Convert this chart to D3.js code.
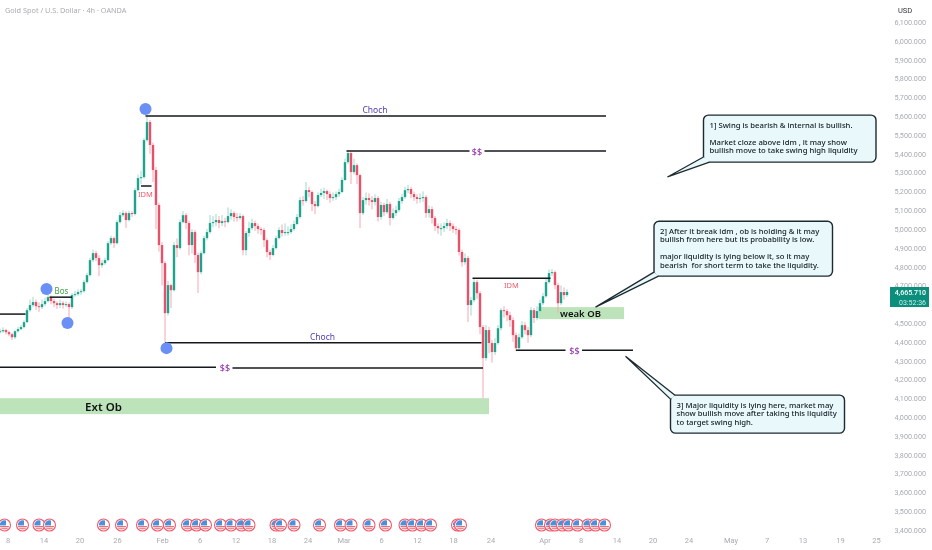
<!DOCTYPE html>
<html>
<head>
<meta charset="utf-8">
<title>Gold Spot / U.S. Dollar</title>
<script src="https://cdn.jsdelivr.net/npm/d3@7"></script>
<style>
  html, body { margin: 0; padding: 0; background: #fff; }
  svg { display: block; font-family: "Noto Sans", sans-serif; filter: blur(0.3px); }
</style>
</head>
<body>
<script>
var closes = [4457,4463,4452,4441,4425,4457,4468,4479,4505,4569,4596,4612,4590,4585,4601,4617,4638,4617,4606,4596,
  4606,4596,4601,4585,4649,4654,4665,4670,4718,4755,4835,4872,4846,4808,4819,4835,4925,4952,4925,5037,
  5074,5085,5048,5085,5080,5207,5271,5276,5473,5569,5447,5314,5128,4915,4819,4553,4702,4675,4915,4899,
  5037,5074,5032,4915,4984,4862,4771,4872,4952,4984,5032,5037,5048,5032,5042,5037,5069,5085,5064,5059,
  5069,4888,4979,5005,5032,5016,5000,4995,4941,4878,4862,4899,4952,4995,4979,4984,4984,5000,5027,5064,
  5154,5149,5207,5197,5133,5122,5181,5192,5202,5186,5165,5170,5186,5197,5261,5356,5404,5303,5340,5287,
  5085,5154,5165,5154,5144,5165,5064,5128,5090,5133,5059,5085,5101,5149,5170,5207,5213,5186,5170,5160,
  5165,5170,5085,5106,5059,5016,5005,5005,5016,5032,5016,5000,4995,4878,4824,4846,4596,4622,4718,4659,
  4479,4314,4463,4394,4346,4394,4473,4569,4564,4542,4516,4436,4367,4425,4489,4463,4436,4569,4527,4564,
  4606,4643,4718,4766,4771,4702,4606,4665,4649,4665.71];
var highs = [4470,4478,4470,4460,4448,4462,4480,4490,4515,4580,4625,4640,4625,4610,4625,4635,4655,4648,4630,4615,
  4625,4618,4615,4610,4660,4672,4680,4682,4730,4768,4848,4890,4885,4860,4835,4848,4935,4965,4960,5048,
  5092,5100,5095,5098,5095,5218,5290,5310,5485,5600,5580,5460,5330,5140,4930,4830,4725,4710,4930,4950,
  5050,5095,5085,5045,5000,4995,4875,4885,4965,5000,5075,5070,5080,5070,5075,5060,5115,5105,5095,5085,
  5085,5078,4990,5040,5055,5045,5030,5010,5005,4950,4890,4915,4965,5010,5025,5030,5015,5025,5045,5080,
  5170,5175,5250,5225,5205,5150,5195,5215,5220,5210,5200,5195,5200,5215,5275,5375,5420,5410,5375,5350,
  5295,5170,5195,5190,5175,5185,5175,5145,5140,5160,5145,5110,5125,5165,5185,5225,5235,5225,5200,5185,
  5190,5200,5180,5125,5120,5070,5030,5030,5035,5055,5045,5030,5015,5005,4890,4870,4858,4640,4735,4730,
  4670,4490,4490,4480,4410,4420,4490,4580,4590,4575,4560,4530,4450,4445,4510,4505,4480,4585,4580,4590,
  4625,4660,4735,4785,4787,4780,4715,4700,4690,4680];
var lows = [4445,4448,4440,4430,4410,4415,4450,4462,4472,4500,4560,4585,4570,4560,4575,4590,4610,4600,4585,4575,
  4580,4578,4585,4527,4575,4640,4645,4650,4662,4710,4748,4825,4830,4750,4795,4810,4828,4915,4900,4918,
  5030,5065,5005,5040,5065,5072,5200,5240,5268,5465,5400,5250,5000,4880,4700,4399,4540,4580,4668,4850,
  4890,5030,5000,4860,4870,4820,4660,4760,4865,4940,4975,5010,5015,5005,5015,5010,5030,5050,5040,5040,
  5050,4860,4860,4960,4995,4990,4975,4970,4905,4850,4835,4855,4890,4945,4960,4965,4965,4975,4990,5020,
  5055,5125,5140,5170,5095,5080,5115,5170,5160,5155,5140,5150,5155,5170,5190,5255,5345,5240,5290,5240,
  5005,5075,5130,5125,5105,5125,5040,5050,5070,5080,5020,5050,5070,5090,5135,5160,5190,5165,5150,5135,
  5140,5145,5060,5060,5030,4990,4975,4965,4985,5000,4990,4980,4970,4860,4800,4810,4505,4540,4610,4630,
  4440,4101,4300,4340,4290,4330,4385,4460,4530,4510,4480,4400,4350,4360,4415,4440,4395,4425,4500,4515,
  4555,4595,4635,4710,4750,4680,4555,4595,4625,4640];

// annotations, in bars and price
var levelLines = [
  [97, 404, 5601], [231, 313, 5415], [323, 404, 5415],
  [110, 321, 4396], [0, 144, 4266], [155, 322, 4261],
  [0, 17, 4548], [33, 48, 4638], [94, 101, 5229],
  [315, 367, 4739], [344, 377, 4356], [388, 422, 4356]
];
var zones = [[0, 326, 4101, 4016], [359, 416, 4585, 4521]];
var swingDots = [[97, 5638], [31, 4681], [45, 4500], [111, 4367]];
var labels = [
  ["Choch", 250, 5635, "#4f3fb0", 8.5, 400],
  ["$$", 318, 5415, "#8e24aa", 9, 400],
  ["Choch", 215, 4430, "#4f3fb0", 8.5, 400],
  ["$$", 150, 4263, "#8e24aa", 9, 400],
  ["$$", 383, 4356, "#8e24aa", 9, 400],
  ["Bos", 41, 4675, "#43a047", 8, 400],
  ["IDM", 97, 5187, "#ef5a6c", 7.5, 400],
  ["IDM", 341, 4702, "#ef5a6c", 7.5, 400],
  ["Ext Ob", 69, 4058, "#111", 11.5, 600],
  ["weak OB", 387, 4553, "#111", 9.5, 600]
];
var callouts = [
  { box: [469, 584, 5606, 5356], a: [469, 5383], b: [473, 5356], tip: [445, 5277],
    lines: ["1] Swing is bearish & internal is bullish.", "", "Market cloze above idm , it may show", "bullish move to take swing high liquidity"] },
  { box: [436, 555, 5042, 4750], a: [436, 4771], b: [439, 4750], tip: [397, 4585],
    lines: ["2] After it break idm , ob is holding & it may", "bullish from here but its probability is low.", "", "major liquidity is lying below it, so it may", "bearish  for short term to take the liquidity."] },
  { box: [447, 563, 4117, 3915], a: [447, 4096], b: [450, 4117], tip: [417, 4324],
    lines: ["3] Major liquidity is lying here, market may", "show bullish move after taking this liquidity", "to target swing high."] }
];

var tickBars = [5,29,53,78,108,133,157,181,205,229,254,278,302,327,363,387,411,435,459,487,511,535,560,584];
var tickText = ["8","14","20","26","Feb","6","12","18","24","Mar","6","12","18","24","Apr","8","14","20","24","May","7","13","19","25"];
// 4,600 sits behind the price tag in the reference
var priceTicks = d3.range(3400, 6200, 100).filter(function(p) { return p !== 4600; });
var eventBars = [3,15,26,33,69,81,95,105,113,125,131,137,147,154,161,166,184,187,196,213,227,234,246,257,270,275,281,287,305,307,361,367,370,375,379,385,392,397,403];

var w = 932, h = 550;
var x = d3.scaleLinear().domain([0, 584]).range([0, 876]);
var y = d3.scaleLinear().domain([3400, 6000]).range([530, 41]);

var svg = d3.select("body").append("svg").attr("width", w).attr("height", h);
svg.append("rect").attr("width", w).attr("height", h).attr("fill", "#fff");

// zones sit under the candles
svg.selectAll(".zone").data(zones).enter().append("rect")
  .attr("class", "zone")
  .attr("x", function(d) { return x(d[0]); })
  .attr("y", function(d) { return y(d[2]); })
  .attr("width", function(d) { return x(d[1]) - x(d[0]); })
  .attr("height", function(d) { return y(d[3]) - y(d[2]); })
  .attr("fill", "#bde3bb");

var candles = closes.map(function(c, i) {
  return { bar: i * 2, open: i ? closes[i - 1] : c, close: c, high: highs[i], low: lows[i] };
});
var upBody = "#1fa38c", downBody = "#e9506a", upWick = "#9ed9cd", downWick = "#f4a8b2";

svg.selectAll(".wick").data(candles).enter().append("line")
  .attr("class", "wick")
  .attr("x1", function(d) { return x(d.bar); })
  .attr("x2", function(d) { return x(d.bar); })
  .attr("y1", function(d) { return y(d.high); })
  .attr("y2", function(d) { return y(d.low); })
  .attr("stroke", function(d) { return d.close >= d.open ? upWick : downWick; })
  .attr("stroke-width", 1);

svg.selectAll(".body").data(candles).enter().append("rect")
  .attr("class", "body")
  .attr("x", function(d) { return x(d.bar) - 1.2; })
  .attr("width", 2.4)
  .attr("y", function(d) { return y(Math.max(d.open, d.close)); })
  .attr("height", function(d) { return Math.max(1, Math.abs(y(d.open) - y(d.close))); })
  .attr("fill", function(d) { return d.close >= d.open ? upBody : downBody; });

svg.selectAll(".level").data(levelLines).enter().append("line")
  .attr("class", "level")
  .attr("x1", function(d) { return x(d[0]); })
  .attr("x2", function(d) { return x(d[1]); })
  .attr("y1", function(d) { return y(d[2]); })
  .attr("y2", function(d) { return y(d[2]); })
  .attr("stroke", "#16181d")
  .attr("stroke-width", 1.5);

svg.selectAll(".dot").data(swingDots).enter().append("circle")
  .attr("class", "dot")
  .attr("cx", function(d) { return x(d[0]); })
  .attr("cy", function(d) { return y(d[1]); })
  .attr("r", 6)
  .attr("fill", "#6a8ff5");

svg.selectAll(".label").data(labels).enter().append("text")
  .attr("class", "label")
  .attr("x", function(d) { return x(d[1]); })
  .attr("y", function(d) { return y(d[2]); })
  .attr("text-anchor", "middle")
  .attr("dominant-baseline", "central")
  .attr("fill", function(d) { return d[3]; })
  .attr("font-size", function(d) { return d[4]; })
  .attr("font-weight", function(d) { return d[5]; })
  .text(function(d) { return d[0]; });

// callouts: box, then the tail over its border, then text
var noteFill = "#e9f8fb", noteLine = "#1c2b30";
var notes = svg.selectAll(".note").data(callouts).enter().append("g").attr("class", "note");
notes.append("rect")
  .attr("x", function(d) { return x(d.box[0]); })
  .attr("y", function(d) { return y(d.box[2]); })
  .attr("width", function(d) { return x(d.box[1]) - x(d.box[0]); })
  .attr("height", function(d) { return y(d.box[3]) - y(d.box[2]); })
  .attr("rx", 5)
  .attr("fill", noteFill)
  .attr("stroke", noteLine)
  .attr("stroke-width", 1.4);
notes.append("path")
  .attr("d", function(d) {
    return d3.line()([[x(d.a[0]), y(d.a[1])], [x(d.tip[0]), y(d.tip[1])], [x(d.b[0]), y(d.b[1])]]);
  })
  .attr("fill", noteFill)
  .attr("stroke", noteLine)
  .attr("stroke-width", 1.3);
notes.each(function(d) {
  d3.select(this).selectAll("text").data(d.lines).enter().append("text")
    .attr("x", x(d.box[0]) + 6)
    .attr("y", function(t, i) { return y(d.box[2]) + 12.5 + i * 8.6; })
    .attr("fill", "#111c22")
    .attr("font-size", 7.7)
    .attr("font-weight", 500)
    .style("white-space", "pre")
    .text(function(t) { return t; });
});

// price axis
var gy = svg.append("g").attr("transform", "translate(926,0)")
  .call(d3.axisLeft(y).tickValues(priceTicks).tickSize(0).tickPadding(0).tickFormat(d3.format(",.3f")));
gy.select(".domain").remove();
gy.selectAll("text").attr("fill", "#a8abb3").attr("font-size", 7.2).attr("font-family", "Roboto");

// time axis
var gx = svg.append("g").attr("transform", "translate(0,538)")
  .call(d3.axisBottom(x).tickValues(tickBars).tickSize(0).tickPadding(0)
    .tickFormat(function(b) { return tickText[tickBars.indexOf(b)]; }));
gx.select(".domain").remove();
gx.selectAll("text").attr("fill", "#a8abb3").attr("font-size", 7.5).attr("font-family", "Roboto");

// economic event flags
var defs = svg.append("defs");
defs.append("clipPath").attr("id", "flagClip").append("circle").attr("r", 4.7);
var flags = svg.selectAll(".flag").data(eventBars).enter().append("g")
  .attr("class", "flag")
  .attr("transform", function(d) { return "translate(" + x(d) + ",525)"; });
flags.append("circle").attr("r", 6).attr("fill", "#fff").attr("stroke", "#ef5a6c").attr("stroke-width", 1.1);
var inner = flags.append("g").attr("clip-path", "url(#flagClip)");
inner.append("rect").attr("x", -5).attr("y", -5).attr("width", 10).attr("height", 10).attr("fill", "#fff");
inner.append("rect").attr("x", -5).attr("y", 1).attr("width", 10).attr("height", 1.3).attr("fill", "#ef6a76");
inner.append("rect").attr("x", -5).attr("y", 3.2).attr("width", 10).attr("height", 1.3).attr("fill", "#ef6a76");
inner.append("rect").attr("x", -5).attr("y", -5).attr("width", 6.5).attr("height", 5.4).attr("fill", "#4a90dc");

// header and price tag
svg.append("text").attr("x", 5).attr("y", 12.5).attr("fill", "#a8abb3").attr("font-size", 7.3)
  .text("Gold Spot / U.S. Dollar \u00b7 4h \u00b7 OANDA");
svg.append("rect").attr("x", 895).attr("y", 0).attr("width", 37).attr("height", 20).attr("fill", "#fff");
svg.append("text").attr("x", 898).attr("y", 12.5).attr("fill", "#33363d").attr("font-size", 7.5).attr("font-family", "Roboto").text("USD");

svg.append("rect").attr("x", 890).attr("y", 287).attr("width", 39).attr("height", 20).attr("fill", "#0b8f7c");
svg.append("text").attr("x", 926).attr("y", 295).attr("text-anchor", "end").attr("fill", "#fff")
  .attr("font-size", 7).attr("font-weight", 500).attr("font-family", "Roboto").text("4,665.710");
svg.append("text").attr("x", 926).attr("y", 304.5).attr("text-anchor", "end").attr("fill", "#cdeee8")
  .attr("font-size", 7).attr("font-family", "Roboto").text("03:52:36");
</script>
</body>
</html>
